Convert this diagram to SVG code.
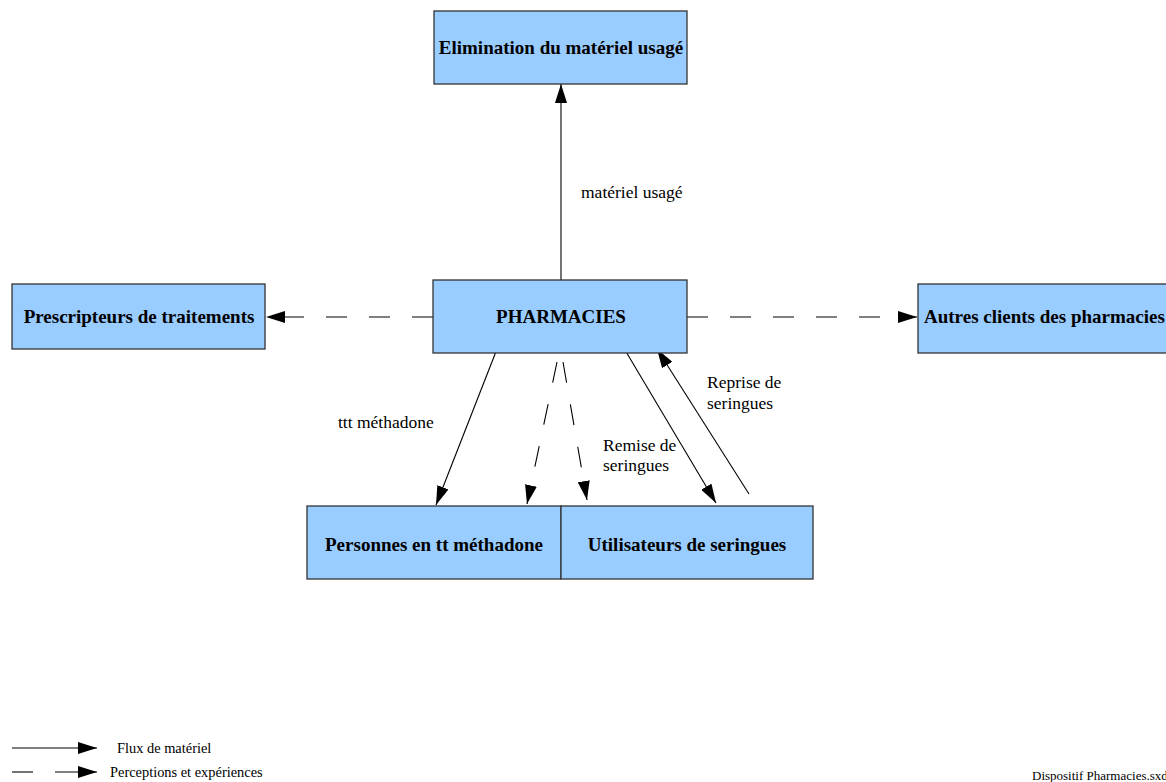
<svg xmlns="http://www.w3.org/2000/svg" width="1166" height="782" viewBox="0 0 1166 782">
<style>
.box{fill:#99ccff;stroke:#333;stroke-width:1.3}
.nl{font-family:"Liberation Serif",serif;font-weight:bold;font-size:19px;fill:#000;text-anchor:middle}
.el{font-family:"Liberation Serif",serif;font-size:17.5px;fill:#000}
.lg{font-family:"Liberation Serif",serif;font-size:14.4px;fill:#000}
.ln{stroke:#000;stroke-width:1.1;fill:none}
.dl{stroke:#000;stroke-width:1.1;fill:none;stroke-dasharray:21,22}
</style>
<defs>
<marker id="ah" markerWidth="19" markerHeight="12" refX="19" refY="6" orient="auto" markerUnits="userSpaceOnUse">
<path d="M0,0 L19,6 L0,12 Z" fill="#000"/>
</marker>
</defs>
<rect width="1166" height="782" fill="#fff"/>
<g id="connectors">
<line class="ln" x1="561" y1="280" x2="561" y2="84" marker-end="url(#ah)"/>
<line class="dl" x1="433" y1="317" x2="266" y2="317" marker-end="url(#ah)"/>
<line class="dl" x1="687" y1="317" x2="917" y2="317" marker-end="url(#ah)"/>
<line class="ln" x1="497" y1="349" x2="436" y2="505" marker-end="url(#ah)"/>
<line class="dl" x1="557" y1="362" x2="527" y2="504" marker-end="url(#ah)"/>
<line class="dl" x1="563" y1="362" x2="587" y2="500" marker-end="url(#ah)"/>
<line class="ln" x1="625" y1="350" x2="716" y2="503" marker-end="url(#ah)"/>
<line class="ln" x1="749" y1="494" x2="657" y2="349" marker-end="url(#ah)"/>
</g>
<g id="n-elimination"><rect class="box" x="434" y="11" width="253" height="73"/><text class="nl" x="561" y="54">Elimination du matériel usagé</text></g>
<g id="n-pharmacies"><rect class="box" x="433" y="280" width="254" height="73"/><text class="nl" x="561" y="323">PHARMACIES</text></g>
<g id="n-prescripteurs"><rect class="box" x="12" y="284" width="253" height="65"/><text class="nl" x="139" y="323">Prescripteurs de traitements</text></g>
<g id="n-autres"><rect class="box" x="918" y="284" width="260" height="69"/><text class="nl" x="924" y="323" style="text-anchor:start">Autres clients des pharmacies</text></g>
<g id="n-personnes"><rect class="box" x="307" y="506" width="254" height="73"/><text class="nl" x="434" y="551">Personnes en tt méthadone</text></g>
<g id="n-utilisateurs"><rect class="box" x="561" y="506" width="252" height="73"/><text class="nl" x="687" y="551">Utilisateurs de seringues</text></g>
<g id="labels">
<text class="el" x="581" y="198">matériel usagé</text>
<text class="el" x="338" y="428">ttt méthadone</text>
<text class="el" x="603" y="451">Remise de</text>
<text class="el" x="603" y="471">seringues</text>
<text class="el" x="707" y="388">Reprise de</text>
<text class="el" x="707" y="409">seringues</text>
</g>
<g id="legend">
<line class="ln" x1="12" y1="748" x2="97" y2="748" marker-end="url(#ah)"/>
<text class="lg" x="117" y="753">Flux de matériel</text>
<line class="ln" x1="12" y1="772" x2="33" y2="772"/>
<line class="ln" x1="55" y1="772" x2="97" y2="772" marker-end="url(#ah)"/>
<text class="lg" x="110" y="777">Perceptions et expériences</text>
<text class="lg" x="1032" y="780" style="font-size:13px">Dispositif Pharmacies.sxd</text>
</g>
</svg>
